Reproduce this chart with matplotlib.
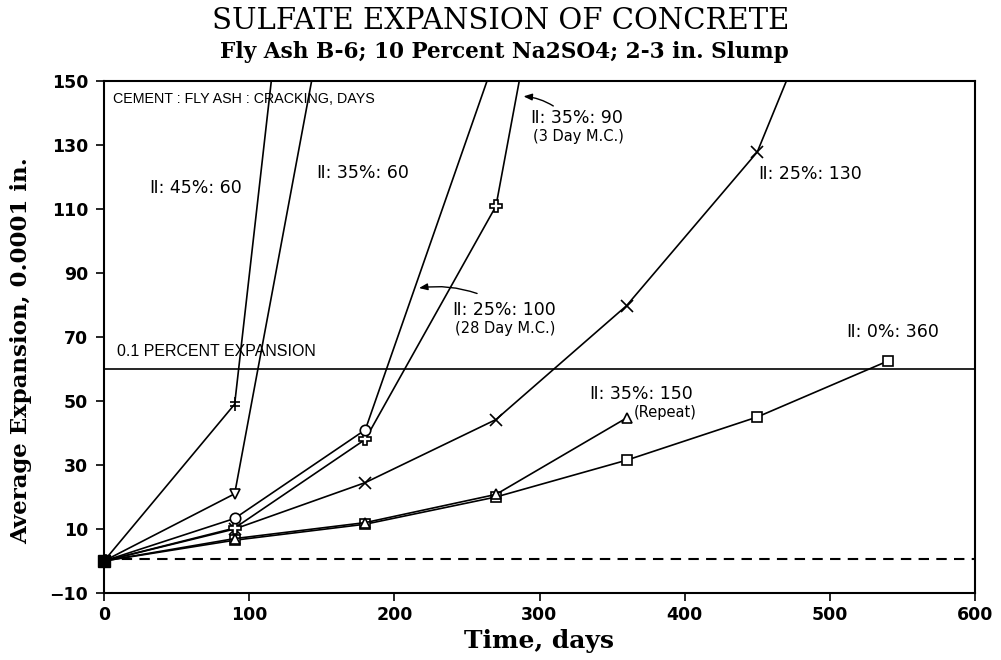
import matplotlib
matplotlib.use("Agg")
import matplotlib.pyplot as plt
from matplotlib.path import Path

# ---------------- data ----------------
days_0 = [0, 90, 180, 270, 360, 450, 540]          # II:0%:360
exp_0 = [0, 6.5, 11.5, 20.0, 31.5, 45.0, 62.5]

days_35r = [0, 90, 180, 270, 360]                  # II:35%:150 (Repeat)
exp_35r = [0, 7.0, 12.0, 20.8, 44.7]

days_25_130 = [0, 90, 180, 270, 360, 450, 480]     # II:25%:130 (last point off chart)
exp_25_130 = [0, 10.0, 24.5, 44.2, 79.8, 127.8, 161]

days_35_90 = [0, 90, 180, 270, 300]                # II:35%:90 (3 Day M.C.)
exp_35_90 = [0, 10.3, 38.0, 110.9, 184]

days_25_100 = [0, 90, 180, 270]                    # II:25%:100 (28 Day M.C.)
exp_25_100 = [0, 13.3, 41.0, 158]

days_35_60 = [0, 90, 150]                          # II:35%:60
exp_35_60 = [0, 21.0, 167]

days_45_60 = [0, 90, 120]                          # II:45%:60
exp_45_60 = [0, 49.0, 169]

baseline_days = [0, 600]
baseline_exp = [0.5, 0.5]
limit_exp = 60  # 0.1 percent expansion

x_ticks = [0, 100, 200, 300, 400, 500, 600]
y_ticks = [-10, 10, 30, 50, 70, 90, 110, 130, 150]

# ---------------- figure ----------------
fig = plt.figure(figsize=(10.01, 6.6), dpi=100)
ax = fig.add_axes([104 / 1001, 1 - 593 / 660, 871 / 1001, 512 / 660])

lw = 1.2
ms = 7.5
common = dict(color="black", lw=lw, mec="black", mew=1.2)

# custom "double bar" marker
verts = [(0, -1), (0, 1), (-0.8, 0.3), (0.8, 0.3), (-0.8, -0.3), (0.8, -0.3)]
codes = [Path.MOVETO, Path.LINETO, Path.MOVETO, Path.LINETO, Path.MOVETO, Path.LINETO]
bar_marker = Path(verts, codes)

ax.plot(days_0, exp_0, marker="s", ms=ms, mfc="white", **common)
ax.plot(days_35r, exp_35r, marker="^", ms=ms, mfc="white", **common)
ax.plot(days_25_130, exp_25_130, marker="x", ms=ms + 1,
        markevery=list(range(len(days_25_130) - 1)), **common)
ax.plot(days_35_90, exp_35_90, marker="P", ms=ms + 1, mfc="white",
        markevery=list(range(len(days_35_90) - 1)), **common)
ax.plot(days_25_100, exp_25_100, marker="o", ms=ms, mfc="white",
        markevery=list(range(len(days_25_100) - 1)), **common)
ax.plot(days_35_60, exp_35_60, marker="v", ms=ms, mfc="white",
        markevery=list(range(len(days_35_60) - 1)), **common)
ax.plot(days_45_60, exp_45_60, marker=bar_marker, ms=ms + 2,
        markevery=list(range(len(days_45_60) - 1)), **common)
# common origin point
ax.plot(days_0[:1], exp_0[:1], marker="s", ms=ms + 1.5, color="black", ls="none",
        clip_on=False, zorder=5)

ax.plot(baseline_days, baseline_exp, color="black", lw=1.5, ls=(0, (5, 3.5)))
ax.axhline(limit_exp, color="black", lw=1.2)

ax.set_xlim(0, 600)
ax.set_ylim(-10, 150)
ax.set_xticks(x_ticks)
ax.set_yticks(y_ticks)
ax.tick_params(direction="out", length=5.5, width=1.2, labelsize=12.5)
ax.tick_params(axis="y", pad=6)
ax.tick_params(axis="x", pad=4)
for lab in ax.get_xticklabels() + ax.get_yticklabels():
    lab.set_fontfamily("DejaVu Sans")
    lab.set_fontweight("bold")
for sp in ax.spines.values():
    sp.set_linewidth(1.5)

# ---------------- texts ----------------
lab_kw = dict(family=["DejaVu Sans"], fontsize=12.5, va="center", ha="left")
sub_kw = dict(family=["DejaVu Sans"], fontsize=10.5, va="center", ha="left")
ax.text(6, 144.5, "CEMENT : FLY ASH : CRACKING, DAYS", family=["Liberation Sans"],
        fontsize=10.3, va="center", ha="left")
ax.text(32, 116.6, "Ⅱ: 45%: 60", **lab_kw)
ax.text(146.5, 121.3, "Ⅱ: 35%: 60", **lab_kw)
ax.text(294, 138.4, "Ⅱ: 35%: 90", **lab_kw)
ax.text(295.5, 132.5, "(3 Day M.C.)", **sub_kw)
ax.text(451, 121.0, "Ⅱ: 25%: 130", **lab_kw)
ax.text(240.5, 78.4, "Ⅱ: 25%: 100", **lab_kw)
ax.text(242, 72.8, "(28 Day M.C.)", **sub_kw)
ax.text(9, 65.4, "0.1 PERCENT EXPANSION", family=["Liberation Sans"], fontsize=11.5,
        va="center", ha="left")
ax.text(512, 71.6, "Ⅱ: 0%: 360", **lab_kw)
ax.text(334.5, 52.2, "Ⅱ: 35%: 150", **lab_kw)
ax.text(365, 46.3, "(Repeat)", **sub_kw)

arrow_kw = dict(arrowstyle="-|>,head_length=0.5,head_width=0.2", color="black", lw=1.0,
                shrinkA=0, shrinkB=0, connectionstyle="arc3,rad=0.12")
ax.annotate("", xy=(289, 145.2), xytext=(309.5, 142.2), arrowprops=arrow_kw)
ax.annotate("", xy=(217, 85.3), xytext=(257, 83.6), arrowprops=arrow_kw)

fig.text(0.5, 1 - 21 / 660, "SULFATE EXPANSION OF CONCRETE", family="DejaVu Serif",
         fontsize=21, ha="center", va="center")
fig.text(504 / 1001, 1 - 52 / 660, "Fly Ash B-6; 10 Percent Na2SO4; 2-3 in. Slump",
         family="DejaVu Serif", fontweight="bold", fontsize=15.6, ha="center", va="center")
fig.text(21 / 1001, 1 - 351 / 660, "Average Expansion, 0.0001 in.", family="DejaVu Serif",
         fontweight="bold", fontsize=16.5, rotation=90, ha="center", va="center")
fig.text(539 / 1001, 1 - 641 / 660, "Time, days", family="DejaVu Serif",
         fontweight="bold", fontsize=18, ha="center", va="center")

fig.savefig("out.png", dpi=100)
